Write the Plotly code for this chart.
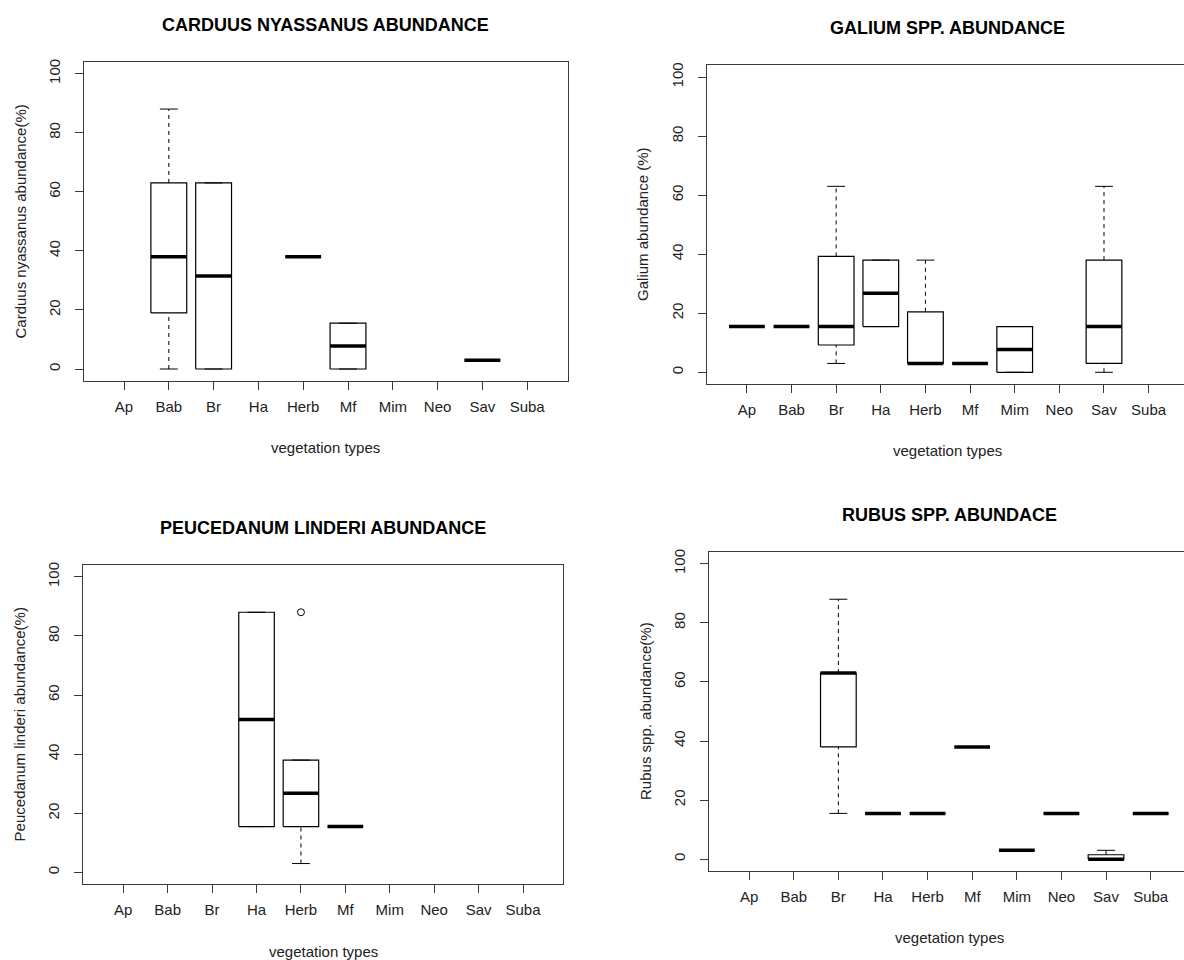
import plotly.graph_objects as go

W, H = 1184, 960

categories = ["Ap", "Bab", "Br", "Ha", "Herb", "Mf", "Mim", "Neo", "Sav", "Suba"]
y_ticks = [0, 20, 40, 60, 80, 100]

# Five-number summaries per vegetation type (None = species absent)
carduus_low = [None, 0, 0, None, 38, 0, None, None, 3, None]
carduus_q1 = [None, 19, 0, None, 38, 0, None, None, 3, None]
carduus_med = [None, 38, 31.5, None, 38, 7.75, None, None, 3, None]
carduus_q3 = [None, 63, 63, None, 38, 15.5, None, None, 3, None]
carduus_high = [None, 88, 63, None, 38, 15.5, None, None, 3, None]
carduus_out = [[] for _ in categories]

galium_low = [15.5, 15.5, 3, 15.5, 3, 3, 0, None, 0, None]
galium_q1 = [15.5, 15.5, 9.25, 15.5, 3, 3, 0, None, 3, None]
galium_med = [15.5, 15.5, 15.5, 26.75, 3, 3, 7.75, None, 15.5, None]
galium_q3 = [15.5, 15.5, 39.25, 38, 20.5, 3, 15.5, None, 38, None]
galium_high = [15.5, 15.5, 63, 38, 38, 3, 15.5, None, 63, None]
galium_out = [[] for _ in categories]

peuce_low = [None, None, None, 15.5, 3, 15.5, None, None, None, None]
peuce_q1 = [None, None, None, 15.5, 15.5, 15.5, None, None, None, None]
peuce_med = [None, None, None, 51.75, 26.75, 15.5, None, None, None, None]
peuce_q3 = [None, None, None, 88, 38, 15.5, None, None, None, None]
peuce_high = [None, None, None, 88, 38, 15.5, None, None, None, None]
peuce_out = [[], [], [], [], [88], [], [], [], [], []]

rubus_low = [None, None, 15.5, 15.5, 15.5, 38, 3, 15.5, 0, 15.5]
rubus_q1 = [None, None, 38, 15.5, 15.5, 38, 3, 15.5, 0, 15.5]
rubus_med = [None, None, 63, 15.5, 15.5, 38, 3, 15.5, 0, 15.5]
rubus_q3 = [None, None, 63, 15.5, 15.5, 38, 3, 15.5, 1.5, 15.5]
rubus_high = [None, None, 88, 15.5, 15.5, 38, 3, 15.5, 3, 15.5]
rubus_out = [[] for _ in categories]

titles = [
    "CARDUUS NYASSANUS ABUNDANCE",
    "GALIUM SPP. ABUNDANCE",
    "PEUCEDANUM LINDERI ABUNDANCE",
    "RUBUS SPP. ABUNDACE",
]
y_titles = [
    "Carduus nyassanus abundance(%)",
    "Galium abundance (%)",
    "Peucedanum linderi abundance(%)",
    "Rubus spp. abundance(%)",
]
x_title = "vegetation types"

panels = [
    (carduus_low, carduus_q1, carduus_med, carduus_q3, carduus_high, carduus_out),
    (galium_low, galium_q1, galium_med, galium_q3, galium_high, galium_out),
    (peuce_low, peuce_q1, peuce_med, peuce_q3, peuce_high, peuce_out),
    (rubus_low, rubus_q1, rubus_med, rubus_q3, rubus_high, rubus_out),
]

# plot-box pixel frames: left, right, top, bottom
frames = [
    (83.7, 567.5, 59.0, 379.0),
    (706.7, 1188.8, 62.5, 382.3),
    (83.3, 563.0, 563.7, 884.0),
    (709.0, 1190.8, 550.7, 870.7),
]

FONT = "Liberation Sans, Arial, sans-serif"
TXT = "#222222"
FRAME = "#3a3a3a"
BOXW = 0.8       # box width in category units
CAPW = 0.4       # staple width

fig = go.Figure()
annotations = []

for k, ((low, q1, med, q3, high, outs), (l, r, t, b)) in enumerate(zip(panels, frames), start=1):
    xa, ya = f"x{k}", f"y{k}"
    bx, by = [], []
    wx, wy = [], []
    cx, cy = [], []
    mx, my = [], []
    ox, oy = [], []
    for i, cat in enumerate(categories):
        pos = i + 1
        if med[i] is None:
            continue
        x0, x1 = pos - BOXW / 2, pos + BOXW / 2
        bx += [x0, x1, x1, x0, x0, None]
        by += [q1[i], q1[i], q3[i], q3[i], q1[i], None]
        if high[i] > q3[i]:
            wx += [pos, pos, None]
            wy += [q3[i], high[i], None]
        if low[i] < q1[i]:
            wx += [pos, pos, None]
            wy += [low[i], q1[i], None]
        for v in (low[i], high[i]):
            cx += [pos - CAPW / 2, pos + CAPW / 2, None]
            cy += [v, v, None]
        mx += [x0, x1, None]
        my += [med[i], med[i], None]
        for v in outs[i]:
            ox.append(pos)
            oy.append(v)

    common = dict(xaxis=xa, yaxis=ya, showlegend=False, hoverinfo="skip")
    fig.add_trace(go.Scatter(x=wx, y=wy, mode="lines",
                             line=dict(color="black", width=1, dash="4px,4px"), **common))
    fig.add_trace(go.Scatter(x=cx, y=cy, mode="lines",
                             line=dict(color="black", width=1), **common))
    fig.add_trace(go.Scatter(x=bx, y=by, mode="lines",
                             line=dict(color="black", width=1.2), **common))
    fig.add_trace(go.Scatter(x=mx, y=my, mode="lines",
                             line=dict(color="black", width=3.5), **common))
    if ox:
        fig.add_trace(go.Scatter(x=ox, y=oy, mode="markers",
                                 marker=dict(symbol="circle-open", size=7,
                                             color="black", line=dict(width=1)),
                                 **common))

    # axis scale: 0.1 .. 10.9 over the frame width; clip at the page edge
    ppu = (r - l) / 10.8
    r_clip = min(r, W)
    x_hi = 0.1 + (r_clip - l) / ppu
    clipped = r > W

    axis_suffix = "" if k == 1 else str(k)
    fig.layout[f"xaxis{axis_suffix}"] = dict(
        domain=[l / W, r_clip / W], range=[0.1, x_hi], anchor=ya,
        tickmode="array", tickvals=list(range(1, len(categories) + 1)),
        ticktext=categories, ticks="outside", ticklen=8, tickwidth=1.2,
        tickcolor=FRAME, showline=True, linecolor=FRAME, linewidth=1.4,
        mirror=True, showgrid=False, zeroline=False, ticklabelstandoff=4,
        tickfont=dict(family=FONT, size=15, color=TXT), fixedrange=True,
    )
    fig.layout[f"yaxis{axis_suffix}"] = dict(
        domain=[1 - b / H, 1 - t / H], range=[-4, 104], anchor=xa,
        tickmode="array", tickvals=y_ticks, ticktext=[str(v) for v in y_ticks],
        ticks="outside", ticklen=8, tickwidth=1.2, tickcolor=FRAME,
        showline=True, linecolor=FRAME, linewidth=1.4, ticklabelstandoff=9,
        mirror=not clipped, showgrid=False, zeroline=False, tickangle=-90,
        tickfont=dict(family=FONT, size=15, color=TXT), fixedrange=True,
    )

    cxp = (l + r) / 2
    annotations.append(dict(text=f"<b>{titles[k-1]}</b>", x=cxp / W, y=1 - (t - 37) / H,
                            xref="paper", yref="paper", showarrow=False,
                            xanchor="center", yanchor="middle",
                            font=dict(family=FONT, size=18, color="black")))
    annotations.append(dict(text=x_title, x=cxp / W, y=1 - (b + 67) / H,
                            xref="paper", yref="paper", showarrow=False,
                            xanchor="center", yanchor="middle",
                            font=dict(family=FONT, size=15, color=TXT)))
    annotations.append(dict(text=y_titles[k-1], x=(l - 63.5) / W, y=1 - ((t + b) / 2) / H,
                            xref="paper", yref="paper", showarrow=False, textangle=-90,
                            xanchor="center", yanchor="middle",
                            font=dict(family=FONT, size=15, color=TXT)))

fig.update_layout(
    width=W, height=H, margin=dict(l=0, r=0, t=0, b=0),
    paper_bgcolor="white", plot_bgcolor="white",
    annotations=annotations,
)

fig.write_html("out.html", config={"displayModeBar": False})
